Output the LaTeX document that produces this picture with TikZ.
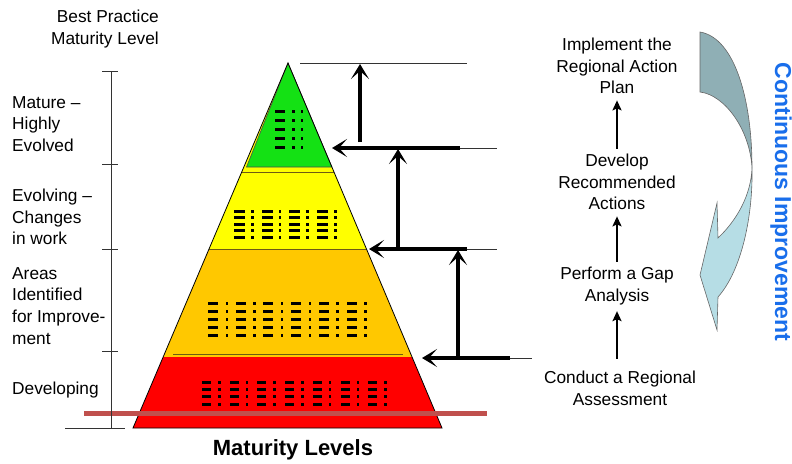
\documentclass[tikz,border=0pt]{standalone}
\usepackage{fontspec}
\setmainfont{Liberation Sans}
\usetikzlibrary{arrows.meta}
\definecolor{pgreen}{RGB}{20,225,20}
\definecolor{pyellow}{RGB}{255,255,0}
\definecolor{porange}{RGB}{255,200,0}
\definecolor{pred}{RGB}{255,0,0}
\definecolor{barred}{RGB}{192,80,77}
\definecolor{ciblue}{RGB}{25,110,235}
\definecolor{cadark}{RGB}{143,175,181}
\definecolor{calight}{RGB}{182,221,229}
\definecolor{sepline}{RGB}{110,90,20}
\begin{document}
\begin{tikzpicture}[x=1pt,y=-1pt,
  lbl/.style={font=\fontsize{17.3}{21.8}\selectfont, inner sep=0pt},
  thickarr/.style={line width=4pt, -{Stealth[length=15pt,width=18pt,inset=8pt]}},
  smallarr/.style={line width=2pt, -{Stealth[length=10pt,width=9pt,inset=2pt]}},
  guide/.style={line width=0.8pt, black!80},
  dsh/.style={fill=black}
]
\useasboundingbox (0,0) rectangle (792,463);

% pyramid bands
\fill[porange] (209,249) -- (366.5,249) -- (412,357) -- (163.2,357) -- cycle;
\fill[pred] (163.2,357) -- (412,357) -- (442,428) -- (133,428) -- cycle;
\fill[pyellow] (288,63) -- (366.5,249) -- (209,249) -- cycle;
\filldraw[fill=pgreen, draw=black!70, line width=0.6pt] (288,63) -- (331.9,167) -- (246.5,167) -- cycle;
\draw[sepline, line width=0.8pt] (241.7,172) -- (334,172);
\draw[sepline, line width=0.8pt] (209,249) -- (366.5,249);
\draw[sepline, line width=0.8pt] (173,354) -- (403,354);
\draw[line width=0.8pt] (288,63) -- (442,428) -- (133,428) -- cycle;

% dash marks
\foreach \y in {111,120.2,129.4,138.6,147.8} {
  \fill[dsh] (275,\y-1.5) rectangle (285,\y+1.5);
  \fill[dsh] (292,\y-1.5) rectangle (294.5,\y+1.5);
  \fill[dsh] (301,\y-1.5) rectangle (303,\y+1.5);
}
\foreach \y in {211,217.5,224,230.5,237} {
  \foreach \g in {0,...,3} {
    \fill[dsh] (234+27.7*\g,\y-1.5) rectangle (245+27.7*\g,\y+1.5);
    \fill[dsh] (251+27.7*\g,\y-1.5) rectangle (253.5+27.7*\g,\y+1.5);
  }
}
\foreach \y in {303,311,319,327,335} {
  \foreach \g in {0,...,5} {
    \fill[dsh] (208+27.7*\g,\y-1.5) rectangle (218+27.7*\g,\y+1.5);
    \fill[dsh] (225.5+27.7*\g,\y-1.5) rectangle (228+27.7*\g,\y+1.5);
  }
}
\foreach \y in {382,389.3,396.7,404} {
  \foreach \g in {0,...,6} {
    \fill[dsh] (202+27.7*\g,\y-1.5) rectangle (211+27.7*\g,\y+1.5);
    \fill[dsh] (218+27.7*\g,\y-1.5) rectangle (220.5+27.7*\g,\y+1.5);
  }
}

% red base bar
\draw[barred, line width=5pt] (84,413.5) -- (487,413.5);

% left axis
\draw[guide] (111,71) -- (111,428);
\foreach \y in {71,164,249,351} \draw[guide] (102,\y) -- (118,\y);
\draw[guide] (65,428) -- (125,428);

% right guide lines and arrows
\coordinate (t0a) at (300,63);  \coordinate (t0b) at (467,63);
\coordinate (t1a) at (460,148); \coordinate (t1b) at (497,148); \coordinate (t1tip) at (332,148);
\coordinate (t2a) at (467,249); \coordinate (t2b) at (497,249); \coordinate (t2tip) at (369,249);
\coordinate (t3a) at (510,358); \coordinate (t3b) at (532,358); \coordinate (t3tip) at (422,358);
\draw[guide] (t0a) -- (t0b);
\draw[guide] (t1a) -- (t1b);
\draw[guide] (t2a) -- (t2b);
\draw[guide] (t3a) -- (t3b);
\draw[thickarr] (t1a) -- (t1tip);
\draw[thickarr] (t2a) -- (t2tip);
\draw[thickarr] (t3a) -- (t3tip);
\coordinate (v1s) at (360,142); \coordinate (v1e) at (360,64);
\coordinate (v2s) at (398,248); \coordinate (v2e) at (398,149);
\coordinate (v3s) at (458,356); \coordinate (v3e) at (458,250);
\draw[thickarr] (v1s) -- (v1e);
\draw[thickarr] (v2s) -- (v2e);
\draw[thickarr] (v3s) -- (v3e);

% left labels
\node[lbl, align=right, anchor=east] (best) at (159,29) {Best Practice\\Maturity Level};
\node[lbl, align=left, anchor=west] (mature) at (12,124) {Mature --\\Highly\\Evolved};
\node[lbl, align=left, anchor=west] (evolv) at (12,217) {Evolving --\\Changes\\in work};
\node[lbl, align=left, anchor=west] (areas) at (12,306) {Areas\\Identified\\for Improve-\\ment};
\node[lbl, align=left, anchor=west] (devl) at (12,390) {Developing};
\node[font=\fontsize{22}{26}\selectfont\bfseries, inner sep=0pt] (mlev) at (293,450) {Maturity Levels};

% right column
\node[lbl, align=center] (impl) at (617,66) {Implement the\\Regional Action\\Plan};
\node[lbl, align=center] (devr) at (617,182) {Develop\\Recommended\\Actions};
\node[lbl, align=center] (gap) at (617,286) {Perform a Gap\\Analysis};
\node[lbl, align=center] (cond) at (620,388) {Conduct a Regional\\Assessment};
\draw[smallarr, shorten <=5pt, shorten >=6pt] (gap.north) -- (gap.north |- devr.south);
\draw[smallarr, shorten <=5pt, shorten >=6pt] (devr.north) -- (devr.north |- impl.south);
\draw[smallarr, shorten <=12pt, shorten >=6pt] (cond.north -| gap.north) -- (gap.south);

% curved arrow
\filldraw[fill=cadark, draw=black!60, line width=0.6pt]
  (700,32) .. controls (735,38) and (752,100) .. (752,168)
  .. controls (750,130) and (725,95) .. (700,92) -- cycle;
\filldraw[fill=calight, draw=black!60, line width=0.6pt]
  (752,168) .. controls (753,215) and (742,270) .. (718,297)
  -- (717,330) -- (700,275) -- (717,203) -- (718,238)
  .. controls (737,220) and (751,195) .. (752,168) -- cycle;
\node[font=\fontsize{23}{26}\selectfont\bfseries, text=ciblue, rotate=-90, inner sep=0pt] (ci) at (781,202) {Continuous Improvement};
\end{tikzpicture}
\end{document}
